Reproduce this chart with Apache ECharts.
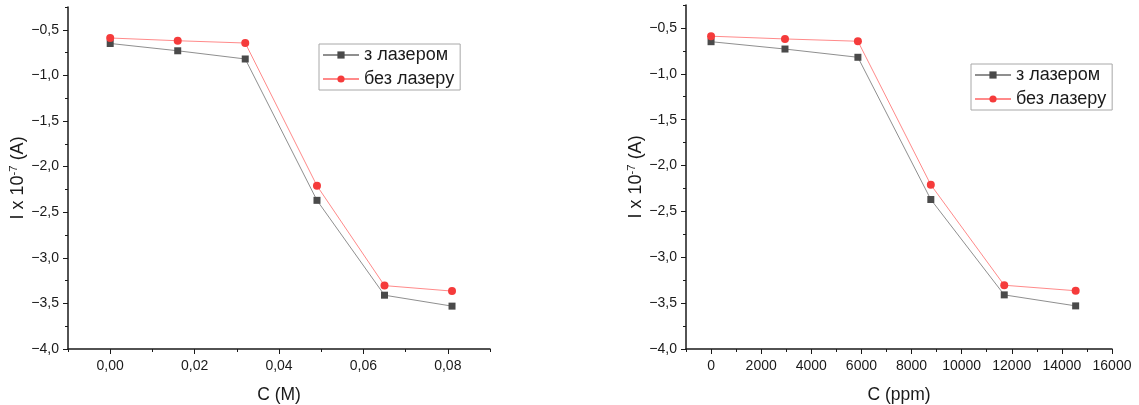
<!DOCTYPE html>
<html>
<head>
<meta charset="utf-8">
<script src="https://cdn.jsdelivr.net/npm/echarts@6/dist/echarts.min.js"></script>
<style>
  html, body { margin: 0; padding: 0; background: #fff; }
  #chart { width: 1139px; height: 405px; }
</style>
</head>
<body>
<div id="chart"></div>
<script>
// data
const concM = [0, 0.016, 0.032, 0.049, 0.065, 0.081];
const concPpm = [0, 2950, 5860, 8770, 11700, 14550];
const withLaser = [-0.65, -0.73, -0.82, -2.37, -3.41, -3.53];
const withoutLaser = [-0.59, -0.62, -0.645, -2.21, -3.305, -3.365];

const seriesNames = ['з лазером', 'без лазеру'];
const xTicksM = [0, 0.02, 0.04, 0.06, 0.08];
const xTicksPpm = [0, 2000, 4000, 6000, 8000, 10000, 12000, 14000, 16000];
const yTicks = [-4, -3.5, -3, -2.5, -2, -1.5, -1, -0.5];

const FONT = 'Liberation Sans, Arial, sans-serif';
const INK = '#1a1a1a';

function pairs(xs, ys) {
  return xs.map((x, i) => [x, ys[i]]);
}

function fmtY(v) {
  return v.toFixed(1).replace('.', ',').replace('-', '−');
}

// main axes: short ticks at every minor step, labels at major values
function xMain(grid, min, max, step, ticks, fmt, name) {
  return {
    type: 'value', gridIndex: grid, position: 'bottom',
    min: min, max: max, interval: step,
    name: name, nameLocation: 'middle', nameGap: 37,
    nameTextStyle: { fontSize: 17.5, fontFamily: FONT, color: INK },
    axisLine: { onZero: false, lineStyle: { color: INK, width: 1.5 } },
    axisTick: { length: 3, lineStyle: { color: INK, width: 1 } },
    axisLabel: { customValues: ticks, formatter: fmt, margin: 10,
      fontSize: 14, fontFamily: FONT, color: INK },
    splitLine: { show: false }
  };
}
// overlay axes: only long ticks at the major values
function xMajor(grid, min, max, ticks) {
  return {
    type: 'value', gridIndex: grid, position: 'bottom', min: min, max: max,
    axisLine: { show: false, onZero: false },
    axisTick: { customValues: ticks, length: 5, lineStyle: { color: INK, width: 1 } },
    axisLabel: { show: false },
    splitLine: { show: false }
  };
}
function yMain(grid) {
  return {
    type: 'value', gridIndex: grid, position: 'left',
    min: -4, max: -0.25, interval: 0.25,
    name: '{n|I x 10}{s|-7}{n| (A)}', nameLocation: 'middle', nameGap: 37,
    nameTextStyle: {
      fontSize: 18, fontFamily: FONT, color: INK,
      rich: {
        n: { fontSize: 18, fontFamily: FONT, color: INK, lineHeight: 21 },
        s: { fontSize: 11.5, fontFamily: FONT, color: INK, verticalAlign: 'top', lineHeight: 12 }
      }
    },
    axisLine: { onZero: false, lineStyle: { color: INK, width: 1.5 } },
    axisTick: { length: 3, lineStyle: { color: INK, width: 1 } },
    axisLabel: { customValues: yTicks, formatter: fmtY, margin: 9,
      fontSize: 14, fontFamily: FONT, color: INK },
    splitLine: { show: false }
  };
}
function yMajor(grid) {
  return {
    type: 'value', gridIndex: grid, position: 'left', min: -4, max: -0.25,
    axisLine: { show: false, onZero: false },
    axisTick: { customValues: yTicks, length: 5, lineStyle: { color: INK, width: 1 } },
    axisLabel: { show: false },
    splitLine: { show: false }
  };
}

function legendAt(left, top) {
  return {
    left: left, top: top, orient: 'vertical', data: seriesNames,
    backgroundColor: '#fff', borderColor: '#a8a8a8', borderWidth: 1, borderRadius: 0,
    padding: [1, 6, 1, 3], itemWidth: 36, itemHeight: 9, itemGap: 4,
    textStyle: { fontSize: 18, fontFamily: FONT, color: INK, lineHeight: 20 }
  };
}

function lineSeries(name, xi, yi, data, gray) {
  return {
    type: 'line', name: name, xAxisIndex: xi, yAxisIndex: yi, data: data,
    symbol: gray ? 'rect' : 'circle', symbolSize: gray ? 7 : 8,
    itemStyle: { color: gray ? '#4a4a4a' : '#f53b3b' },
    lineStyle: { color: gray ? '#8f8f8f' : '#ff8a8a', width: 1 },
    emphasis: { disabled: true },
    animation: false
  };
}

const chart = echarts.init(document.getElementById('chart'));
chart.setOption({
  backgroundColor: '#fff',
  animation: false,
  grid: [
    { left: 68, top: 7, width: 422, height: 342, outerBoundsMode: 'none' },
    { left: 686, top: 5, width: 426, height: 344, outerBoundsMode: 'none' }
  ],
  xAxis: [
    xMain(0, -0.01, 0.09, 0.01, xTicksM, v => v.toFixed(2).replace('.', ','), 'C (M)'),
    xMajor(0, -0.01, 0.09, xTicksM),
    xMain(1, -1000, 16000, 1000, xTicksPpm, v => String(v), 'C (ppm)'),
    xMajor(1, -1000, 16000, xTicksPpm)
  ],
  yAxis: [yMain(0), yMajor(0), yMain(1), yMajor(1)],
  legend: [legendAt(319, 44), legendAt(971, 64)],
  series: [
    lineSeries(seriesNames[0], 0, 0, pairs(concM, withLaser), true),
    lineSeries(seriesNames[1], 0, 0, pairs(concM, withoutLaser), false),
    lineSeries(seriesNames[0], 2, 2, pairs(concPpm, withLaser), true),
    lineSeries(seriesNames[1], 2, 2, pairs(concPpm, withoutLaser), false)
  ]
});
</script>
</body>
</html>
